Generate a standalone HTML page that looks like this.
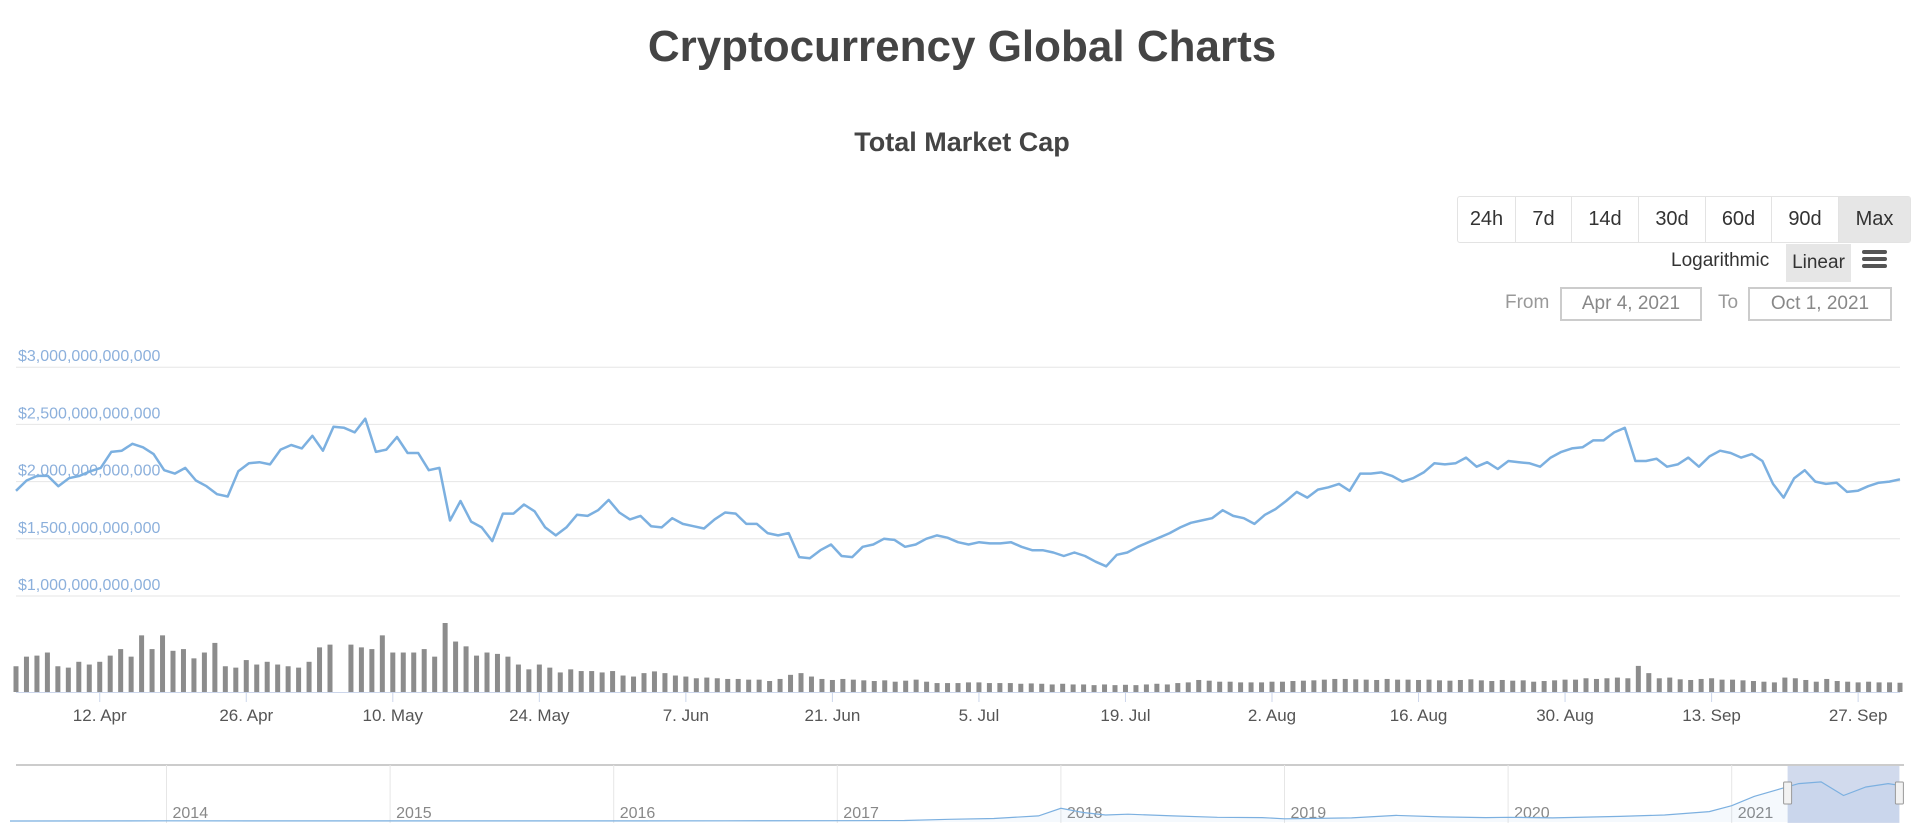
<!DOCTYPE html>
<html><head><meta charset="utf-8"><style>
body{margin:0;width:1924px;height:838px;background:#fff;font-family:"Liberation Sans",sans-serif;overflow:hidden;position:relative}
.abs{position:absolute}
#title{left:0;width:1924px;top:22px;text-align:center;font-size:44px;font-weight:bold;color:#444}
#sub{left:0;width:1924px;top:127px;text-align:center;font-size:27px;font-weight:bold;color:#444}
.grp{left:1457px;top:196px;height:45px;border:1px solid #e3e3e3;border-radius:3px;display:flex}
.grp div{height:45px;line-height:45px;font-size:20px;color:#333;text-align:center;border-right:1px solid #e3e3e3}
.inp{border:2px solid #ccc;height:30px;line-height:30px;text-align:center;font-size:19px;color:#888}
</style></head><body>
<div id="title" class="abs">Cryptocurrency Global Charts</div>
<div id="sub" class="abs">Total Market Cap</div>
<div class="abs grp">
<div style="width:57px">24h</div>
<div style="width:55px">7d</div>
<div style="width:66px">14d</div>
<div style="width:66px">30d</div>
<div style="width:65px">60d</div>
<div style="width:66px">90d</div>
<div style="width:71px;background:#e6e6e6;border-right:none">Max</div>
</div>
<div class="abs" style="left:1671px;top:250px;font-size:19px;color:#333">Logarithmic</div>
<div class="abs" style="left:1786px;top:244px;width:65px;height:38px;line-height:38px;text-align:center;background:#e6e6e6;font-size:19px;color:#333">Linear</div>
<div class="abs" style="left:1862px;top:250px;width:25px">
<div style="height:4px;background:#555;border-radius:2px;margin-bottom:3px"></div><div style="height:4px;background:#555;border-radius:2px;margin-bottom:3px"></div><div style="height:4px;background:#555;border-radius:2px"></div></div>
<div class="abs" style="left:1505px;top:292px;font-size:19px;color:#999">From</div>
<div class="abs inp" style="left:1560px;top:287px;width:138px">Apr 4, 2021</div>
<div class="abs" style="left:1718px;top:292px;font-size:19px;color:#999">To</div>
<div class="abs inp" style="left:1748px;top:287px;width:140px">Oct 1, 2021</div>
<svg id="chart" class="abs" style="left:0;top:0" width="1924" height="838"></svg>
<script>
const values=[1.92,2.01,2.05,2.05,1.96,2.03,2.05,2.09,2.12,2.26,2.27,2.33,2.30,2.24,2.10,2.07,2.12,2.01,1.96,1.89,1.87,2.09,2.16,2.17,2.15,2.28,2.32,2.29,2.40,2.27,2.48,2.47,2.43,2.55,2.26,2.28,2.39,2.25,2.25,2.10,2.12,1.66,1.83,1.65,1.60,1.48,1.72,1.72,1.80,1.74,1.60,1.53,1.60,1.71,1.70,1.75,1.84,1.73,1.67,1.70,1.61,1.60,1.68,1.63,1.61,1.59,1.67,1.73,1.72,1.63,1.63,1.55,1.53,1.55,1.34,1.33,1.40,1.45,1.35,1.34,1.43,1.45,1.50,1.49,1.43,1.45,1.50,1.53,1.51,1.47,1.45,1.47,1.46,1.46,1.47,1.43,1.40,1.40,1.38,1.35,1.38,1.35,1.30,1.26,1.36,1.38,1.43,1.47,1.51,1.55,1.60,1.64,1.66,1.68,1.75,1.70,1.68,1.63,1.71,1.76,1.83,1.91,1.86,1.93,1.95,1.98,1.92,2.07,2.07,2.08,2.05,2.00,2.03,2.08,2.16,2.15,2.16,2.21,2.13,2.17,2.11,2.18,2.17,2.16,2.13,2.21,2.26,2.29,2.30,2.36,2.36,2.43,2.47,2.18,2.18,2.20,2.13,2.15,2.21,2.13,2.22,2.27,2.25,2.21,2.24,2.18,1.98,1.86,2.03,2.10,2.00,1.98,1.99,1.91,1.92,1.96,1.99,2.00,2.02];
const volumes=[75,103,106,115,75,71,88,80,88,106,125,103,165,125,165,120,125,98,115,143,75,71,93,80,88,80,75,71,88,130,138,0,138,130,125,165,115,115,115,125,103,201,147,133,106,115,111,103,80,66,80,71,57,66,61,61,57,61,
48,45,55,60,55,48,45,40,42,40,38,38,36,36,32,38,50,55,45,38,35,
38,36,34,32,34,30,33,36,30,26,26,26,28,28,
26,26,26,24,25,24,22,24,22,22,20,22,20,21,
20,22,24,22,26,28,35,33,30,30,28,28,28,30,
30,32,33,34,36,38,38,37,36,35,38,36,36,35,
36,34,33,35,37,34,32,35,33,34,30,32,34,36,
36,40,38,40,42,40,76,55,40,42,37,35,38,40,
36,36,34,32,30,28,42,40,35,30,38,32,30,28,30,28,28,27];
const yTicks=[1,1.5,2,2.5,3];
const yTickLabels=["$1,000,000,000,000","$1,500,000,000,000","$2,000,000,000,000","$2,500,000,000,000","$3,000,000,000,000"];
const xTickDays=[8,22,36,50,64,78,92,106,120,134,148,162,176];
const xTickLabels=["12. Apr","26. Apr","10. May","24. May","7. Jun","21. Jun","5. Jul","19. Jul","2. Aug","16. Aug","30. Aug","13. Sep","27. Sep"];
const navYears=[2013.3,2014,2015,2016,2016.5,2017,2017.3,2017.5,2017.7,2017.9,2018.0,2018.1,2018.2,2018.3,2018.5,2018.7,2018.9,2019.0,2019.3,2019.5,2019.7,2019.9,2020.0,2020.2,2020.5,2020.7,2020.9,2021.0,2021.1,2021.3,2021.4,2021.5,2021.6,2021.7,2021.75];
const navValues=[0.001,0.01,0.005,0.007,0.01,0.018,0.03,0.1,0.15,0.3,0.75,0.5,0.35,0.4,0.3,0.22,0.2,0.13,0.18,0.33,0.24,0.2,0.22,0.18,0.27,0.35,0.55,0.9,1.45,2.2,2.3,1.5,2.0,2.2,2.1];
const navYearLabels=[2014,2015,2016,2017,2018,2019,2020,2021];
const selStart=2021.25, selEnd=2021.75, totalDays=180;

const NS="http://www.w3.org/2000/svg", svg=document.getElementById('chart');
function mk(t,a,p){const e=document.createElementNS(NS,t);for(const k in a)e.setAttribute(k,a[k]);(p||svg).appendChild(e);return e;}
const xDay=d=>16+d*(1884/totalDays);
const xIdx=i=>xDay(i*totalDays/(values.length-1));
const yVal=v=>596-(v-1)*114.4;
const vMax=Math.max(...volumes);
const hVol=v=>v/vMax*69;
const xNav=y=>166.5+(y-2014)*223.6;
const yNav=v=>821-v*17;

yTicks.forEach((t,i)=>{
 const l=mk('line',{x1:16,x2:1900,y1:yVal(t),y2:yVal(t),stroke:'#e6e6e6','stroke-width':1});
 
 const tx=mk('text',{x:18,y:yVal(t)-6,'font-size':16,fill:'#8cb0dc','font-family':'Liberation Sans, sans-serif'});
 tx.textContent=yTickLabels[i];
 
});
let d='';values.forEach((v,i)=>{d+=(i?'L':'M')+xIdx(i).toFixed(1)+' '+yVal(v).toFixed(1);});
const ln=mk('path',{d:d,fill:'none',stroke:'#7cb0e0','stroke-width':2.5,'stroke-linejoin':'round'});

volumes.forEach((v,i)=>{
 if(!v)return;const h=hVol(v);
 const r=mk('rect',{x:xDay(i)-2.5,y:692-h,width:5,height:h,fill:'#8c8c8c'});
 
});
const ax=mk('line',{x1:16,x2:1900,y1:692.5,y2:692.5,stroke:'#ccd6eb'});

xTickDays.forEach((dd,i)=>{
 mk('line',{x1:xDay(dd),x2:xDay(dd),y1:693,y2:702,stroke:'#ccd6eb'});
 const t=mk('text',{x:xDay(dd),y:721,'text-anchor':'middle','font-size':17,fill:'#555'});
 t.textContent=xTickLabels[i];
 
});
// navigator
const nb=mk('rect',{x:16,y:765,width:1888,height:58,fill:'#fff',stroke:'none'});

mk('line',{x1:16,x2:1904,y1:765,y2:765,stroke:'#ccc','stroke-width':2});
navYearLabels.forEach(y=>{
 mk('line',{x1:xNav(y),x2:xNav(y),y1:765,y2:823,stroke:'#e6e6e6'});
 const t=mk('text',{x:xNav(y)+6,y:818,'font-size':16,fill:'#888'});t.textContent=y;
 
});
mk('rect',{x:xNav(selStart),y:766,width:xNav(selEnd)-xNav(selStart),height:57,fill:'rgba(102,133,194,0.3)'});
let nd='';navYears.forEach((y,i)=>{nd+=(i?'L':'M')+xNav(y).toFixed(1)+' '+yNav(navValues[i]).toFixed(1);});
mk('path',{d:nd+'L'+xNav(navYears[navYears.length-1])+' 822L'+xNav(navYears[0])+' 822Z',fill:'rgba(124,176,224,0.08)'});
const np=mk('path',{d:nd,fill:'none',stroke:'#7cb0e0','stroke-width':1.2});

[selStart,selEnd].forEach(y=>{
 const h=mk('rect',{x:xNav(y)-4,y:782,width:8,height:22,fill:'#f2f2f2',stroke:'#999',rx:1});
 
});
</script>
</body></html>
